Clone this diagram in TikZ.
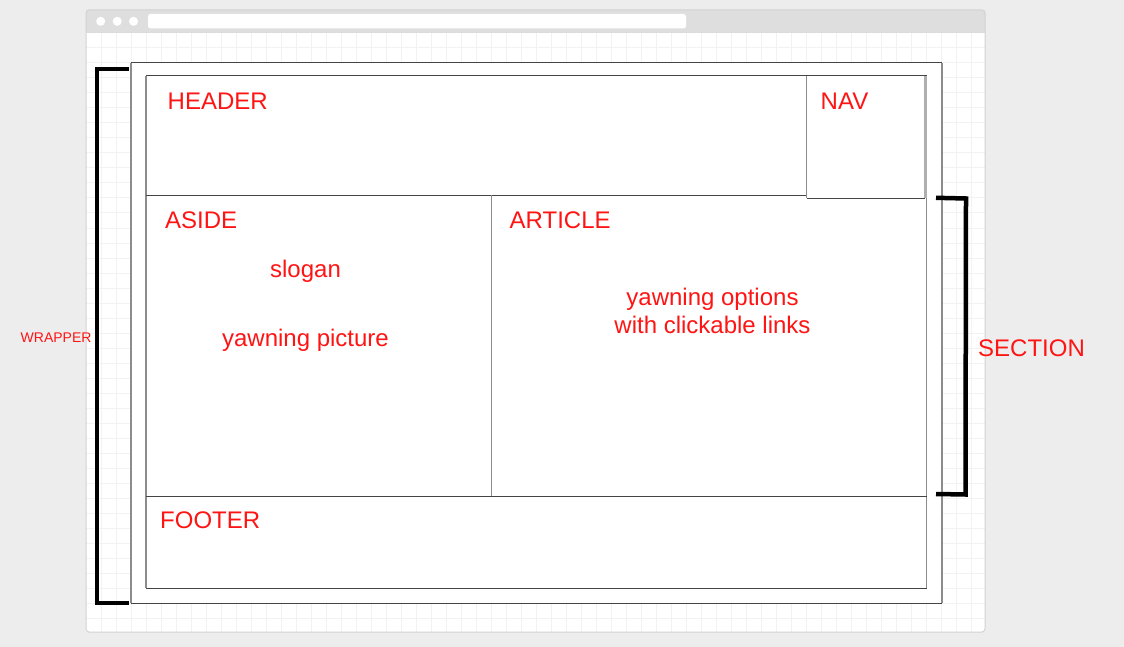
\documentclass[tikz,border=0pt]{standalone}
\usepackage{fontspec}
\setmainfont{Liberation Sans}
\definecolor{pagebg}{HTML}{EDEDED}
\definecolor{chromebar}{HTML}{DEDEDE}
\definecolor{gridcol}{HTML}{F2F2F2}
\definecolor{framecol}{HTML}{D2D2D2}
\definecolor{hline}{HTML}{444444}
\definecolor{vline}{HTML}{8C8C8C}
\definecolor{labelred}{HTML}{FF1414}
\tikzset{
  gridline/.style={draw=gridcol, line width=1pt},
  hedge/.style={draw=hline, line width=1pt},
  vedge/.style={draw=vline, line width=1.3pt},
  bracketline/.style={draw=black, line width=4.5pt, line cap=butt, line join=miter},
  biglabel/.style={text=labelred, font=\fontsize{24}{28}\selectfont, inner sep=0pt},
  smalllabel/.style={text=labelred, font=\fontsize{14}{16}\selectfont, inner sep=0pt},
}
\begin{document}
\begin{tikzpicture}[x=1pt,y=-1pt]
\useasboundingbox (0,0) rectangle (1124,647);
\fill[pagebg] (0,0) rectangle (1124,647);
% browser window
\fill[white] (86,33) rectangle (985,632);
\foreach \i in {1,...,59} \draw[gridline] (86+15*\i,33) -- (86+15*\i,632);
\foreach \j in {1,...,39} \draw[gridline] (86,33+15*\j) -- (985,33+15*\j);
\fill[chromebar, rounded corners=3pt] (86,10) rectangle (985,33);
\fill[chromebar] (86,25) rectangle (985,33);
\draw[framecol, line width=1pt, rounded corners=3pt] (86,632) -- (86,10) -- (985,10) -- (985,632) -- cycle;
\draw[framecol!80!white, line width=1pt] (86,33) -- (985,33);
\foreach \cx in {100.7,117.2,133.5} \fill[white] (\cx,21.3) circle (4.5);
\fill[white, rounded corners=2.5pt] (148,14) rectangle (686,28.5);
% wrapper
\fill[white] (131,63) rectangle (942,603);
\draw[hedge] (131,63) -- (942,63);
\draw[hedge] (131,603) -- (942,603);
\draw[vedge] (131,63) -- (131,603);
\draw[vedge] (942,63) -- (942,603);
% inner layout
\fill[white] (146,76) rectangle (927,588);
\draw[hedge] (146,76) -- (927,76);
\draw[hedge] (146,588) -- (927,588);
\draw[vedge] (146,76) -- (146,588);
\draw[vedge] (926.5,196) -- (926.5,588);
\draw[hedge] (146,195.5) -- (806.5,195.5);
\draw[hedge] (806.5,198.5) -- (925,198.5);
\draw[vedge] (806.5,76) -- (806.5,198.5);
\draw[draw=vline!70!white, line width=2.6pt] (925.5,76.5) -- (925.5,198);
\draw[vedge] (491.3,195.5) -- (491.3,496);
\draw[hedge] (146,496) -- (927,496);
% brackets
\draw[bracketline] (128.5,68.8) -- (97,68.8) -- (97,603) -- (128.5,603);
\draw[bracketline] (936,197.8) -- (966,198.5) -- (965.5,494.5) -- (936,494);
% labels
\node[biglabel, anchor=base west] (header) at (167.5,110) {HEADER};
\node[biglabel, anchor=base west] (nav) at (820.5,110) {NAV};
\node[biglabel, anchor=base west] (aside) at (165,229) {ASIDE};
\node[biglabel, anchor=base] (slogan) at (305.5,277) {slogan};
\node[biglabel, anchor=base] (picture) at (305.5,346) {yawning picture};
\node[biglabel, anchor=base west] (article) at (509.5,229) {ARTICLE};
\node[biglabel, anchor=base, align=center] (options) at (712.5,333.5) {yawning options\\with clickable links};
\node[biglabel, anchor=base west] (footer) at (160,528) {FOOTER};
\node[biglabel, anchor=base west] (section) at (978,356) {SECTION};
\node[smalllabel, anchor=base west] (wrapper) at (20.5,342) {WRAPPER};
\end{tikzpicture}
\end{document}
